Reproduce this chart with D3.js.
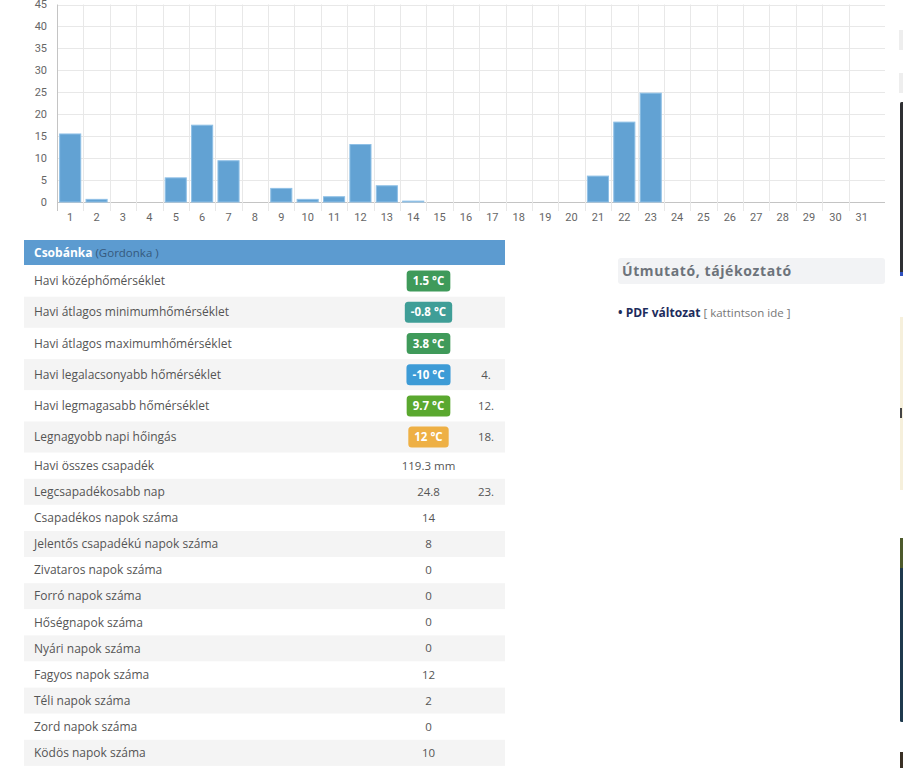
<!DOCTYPE html>
<html>
<head>
<meta charset="utf-8">
<script src="https://cdn.jsdelivr.net/npm/d3@7"></script>
<style>
  html, body { margin: 0; padding: 0; background: #fff; }
  svg { display: block; font-family: "Open Sans", sans-serif; }
</style>
</head>
<body>
<svg id="page" width="903" height="768"></svg>
<script>
// daily precipitation (mm), days 1..31
var days = d3.range(1, 32);
var rain = [15.5, 0.6, 0, 0, 5.5, 17.5, 9.4, 0, 3.1, 0.6, 1.2, 13.1, 3.7, 0.2, 0,
            0, 0, 0, 0, 0, 5.9, 18.2, 24.8, 0, 0, 0, 0, 0, 0, 0, 0];
var yTicks = [0, 5, 10, 15, 20, 25, 30, 35, 40, 45];

// station table
var station = 'Csobánka';
var stationSub = '(Gordonka )';
var tempLabels = ['Havi középhőmérséklet', 'Havi átlagos minimumhőmérséklet',
  'Havi átlagos maximumhőmérséklet', 'Havi legalacsonyabb hőmérséklet',
  'Havi legmagasabb hőmérséklet', 'Legnagyobb napi hőingás'];
var tempValues = ['1.5 °C', '-0.8 °C', '3.8 °C', '-10 °C', '9.7 °C', '12 °C'];
var tempColors = ['#3f9a5a', '#3f9e97', '#3f9a5a', '#3d9bd6', '#5aa82f', '#eeb045'];
var tempDays = ['', '', '', '4.', '12.', '18.'];
var otherLabels = ['Havi összes csapadék', 'Legcsapadékosabb nap', 'Csapadékos napok száma',
  'Jelentős csapadékú napok száma', 'Zivataros napok száma', 'Forró napok száma',
  'Hőségnapok száma', 'Nyári napok száma', 'Fagyos napok száma', 'Téli napok száma',
  'Zord napok száma', 'Ködös napok száma'];
var otherValues = ['119.3 mm', '24.8', '14', '8', '0', '0', '0', '0', '12', '2', '0', '10'];
var otherDays = ['', '23.', '', '', '', '', '', '', '', '', '', ''];

var svg = d3.select('#page');

// ---------- bar chart ----------
var plotLeft = 57, plotRight = 875, gridRight = 885, plotTop = 4.5, base = 202;

var x = d3.scaleBand().domain(days).range([plotLeft, plotRight]).paddingInner(0.2).paddingOuter(0.1);
var y = d3.scaleLinear().domain([0, 45]).range([base, plotTop]);

var chart = svg.append('g').attr('class', 'chart');

// horizontal grid
chart.selectAll('line.hgrid').data(yTicks).enter().append('line')
    .attr('x1', plotLeft).attr('x2', gridRight)
    .attr('y1', function(d) { return Math.round(y(d)) + 0.5; })
    .attr('y2', function(d) { return Math.round(y(d)) + 0.5; })
    .attr('stroke', function(d) { return d === 0 ? '#c4c4c4' : '#e8e8e8'; });

// vertical grid at band edges (running a bit under the axis as ticks)
var step = x.step();
chart.selectAll('line.vgrid').data(days).enter().append('line')
    .attr('x1', function(d) { return Math.round(x(d) - step * 0.1) + 0.5; })
    .attr('x2', function(d) { return Math.round(x(d) - step * 0.1) + 0.5; })
    .attr('y1', plotTop).attr('y2', base + 9)
    .attr('stroke', function(d) { return d === 1 ? '#c4c4c4' : '#e8e8e8'; });

// bars
chart.selectAll('rect.bar').data(rain).enter().append('rect')
    .attr('class', 'bar')
    .attr('x', function(d, i) { return x(days[i]); })
    .attr('width', x.bandwidth())
    .attr('y', function(d) { return y(d); })
    .attr('height', function(d) { return base - y(d); })
    .attr('fill', '#62a2d3')
    .attr('stroke', '#8fc0e6')
    .attr('stroke-width', function(d) { return d > 0 ? 1 : 0; });

// y tick labels
chart.selectAll('text.ylab').data(yTicks).enter().append('text')
    .attr('x', 47).attr('y', function(d) { return y(d); })
    .attr('dy', '0.35em')
    .attr('text-anchor', 'end')
    .attr('font-family', 'Roboto, sans-serif')
    .attr('font-size', 11)
    .attr('fill', '#666')
    .text(function(d) { return d; });

// x tick labels
chart.selectAll('text.xlab').data(days).enter().append('text')
    .attr('x', function(d) { return x(d) + x.bandwidth() / 2; })
    .attr('y', 217).attr('dy', '0.35em')
    .attr('text-anchor', 'middle')
    .attr('font-family', 'Roboto, sans-serif')
    .attr('font-size', 11)
    .attr('fill', '#666')
    .text(function(d) { return d; });

// ---------- station table ----------
var tLeft = 24, tRight = 505, labelX = 34, valX = 428.5, dayX = 486;
var tbl = svg.append('g').attr('class', 'table');

tbl.append('rect').attr('x', tLeft).attr('y', 240).attr('width', tRight - tLeft).attr('height', 25)
    .attr('fill', '#5c9bd0');
var head = tbl.append('text').attr('x', labelX).attr('y', 252.5).attr('dy', '0.35em').attr('font-size', 12);
head.append('tspan').attr('font-weight', 'bold').attr('fill', '#fff').text(station);
head.append('tspan').attr('fill', '#35597d').attr('font-size', 11.5).text(' ' + stationSub);

var rows = [];
tempLabels.forEach(function(l, i) {
  rows.push({label: l, value: tempValues[i], color: tempColors[i], day: tempDays[i], h: 31.2});
});
otherLabels.forEach(function(l, i) {
  rows.push({label: l, value: otherValues[i], color: null, day: otherDays[i], h: 26.1});
});
var yy = 265.5;
rows.forEach(function(r) { r.y0 = yy; yy += r.h; });

var row = tbl.selectAll('g.row').data(rows).enter().append('g')
    .attr('transform', function(d) { return 'translate(0,' + d.y0 + ')'; });

row.append('rect').attr('x', tLeft).attr('width', tRight - tLeft)
    .attr('height', function(d) { return d.h; })
    .attr('fill', function(d, i) { return i % 2 ? '#f4f4f4' : '#fff'; });

row.append('text').attr('x', labelX).attr('y', function(d) { return d.h / 2; })
    .attr('dy', '0.35em').attr('font-size', 12).attr('fill', '#555')
    .text(function(d) { return d.label; });

row.append('text').attr('x', dayX).attr('y', function(d) { return d.h / 2; })
    .attr('dy', '0.35em').attr('font-size', 11.5).attr('fill', '#555')
    .attr('text-anchor', 'middle')
    .text(function(d) { return d.day; });

row.each(function(d) {
  var g = d3.select(this);
  if (d.color) {
    var badge = g.append('g');
    var rect = badge.append('rect').attr('rx', 3.5).attr('fill', d.color);
    var txt = badge.append('text').attr('x', valX).attr('y', d.h / 2)
        .attr('dy', '0.36em').attr('text-anchor', 'middle')
        .attr('font-size', 11.5).attr('font-weight', 'bold').attr('fill', '#fff')
        .text(d.value);
    var w = txt.node().getComputedTextLength() + 12;
    rect.attr('x', valX - w / 2).attr('y', d.h / 2 - 10.5).attr('width', w).attr('height', 21);
  } else {
    g.append('text').attr('x', valX).attr('y', d.h / 2)
        .attr('dy', '0.35em').attr('text-anchor', 'middle')
        .attr('font-size', 11.5).attr('fill', '#555')
        .text(d.value);
  }
});

// ---------- info panel ----------
var info = svg.append('g').attr('class', 'info');
info.append('rect').attr('x', 618).attr('y', 258).attr('width', 267).attr('height', 26)
    .attr('rx', 3).attr('fill', '#f2f3f5');
info.append('text').attr('x', 622).attr('y', 271.5).attr('dy', '0.35em')
    .attr('font-size', 14).attr('font-weight', 'bold').attr('letter-spacing', 0.6)
    .attr('fill', '#6d737b').text('Útmutató, tájékoztató');
var pdf = info.append('text').attr('x', 618).attr('y', 313).attr('dy', '0.35em').attr('font-size', 12);
pdf.append('tspan').attr('font-weight', 'bold').attr('fill', '#1d2c5c').text('• PDF változat');
pdf.append('tspan').attr('fill', '#777').attr('font-size', 11.5).text(' [ kattintson ide ]');

// ---------- edge of neighbouring window ----------
var edgeTop = [30, 73], edgeBottom = [50, 93];
var edge = svg.append('g').attr('class', 'edge');
edgeTop.forEach(function(t, i) {
  edge.append('rect').attr('x', 899).attr('y', t).attr('width', 4).attr('height', edgeBottom[i] - t)
      .attr('fill', '#eeeeee');
});
edge.append('rect').attr('x', 900).attr('y', 102).attr('width', 4).attr('height', 174).attr('rx', 1.5).attr('fill', '#2f3033');
edge.append('rect').attr('x', 900).attr('y', 272).attr('width', 3).attr('height', 4).attr('fill', '#3050c0');
edge.append('rect').attr('x', 900).attr('y', 317).attr('width', 3).attr('height', 173).attr('fill', '#f6f0dc');
edge.append('rect').attr('x', 900).attr('y', 408).attr('width', 2).attr('height', 10).attr('fill', '#444');
edge.append('rect').attr('x', 900).attr('y', 538).attr('width', 4).attr('height', 184).attr('rx', 1.5).attr('fill', '#1f3a4e');
edge.append('rect').attr('x', 900).attr('y', 538).attr('width', 4).attr('height', 30).attr('fill', '#4d5a2c');
edge.append('rect').attr('x', 900).attr('y', 752).attr('width', 4).attr('height', 16).attr('fill', '#3a3025');
</script>
</body>
</html>
